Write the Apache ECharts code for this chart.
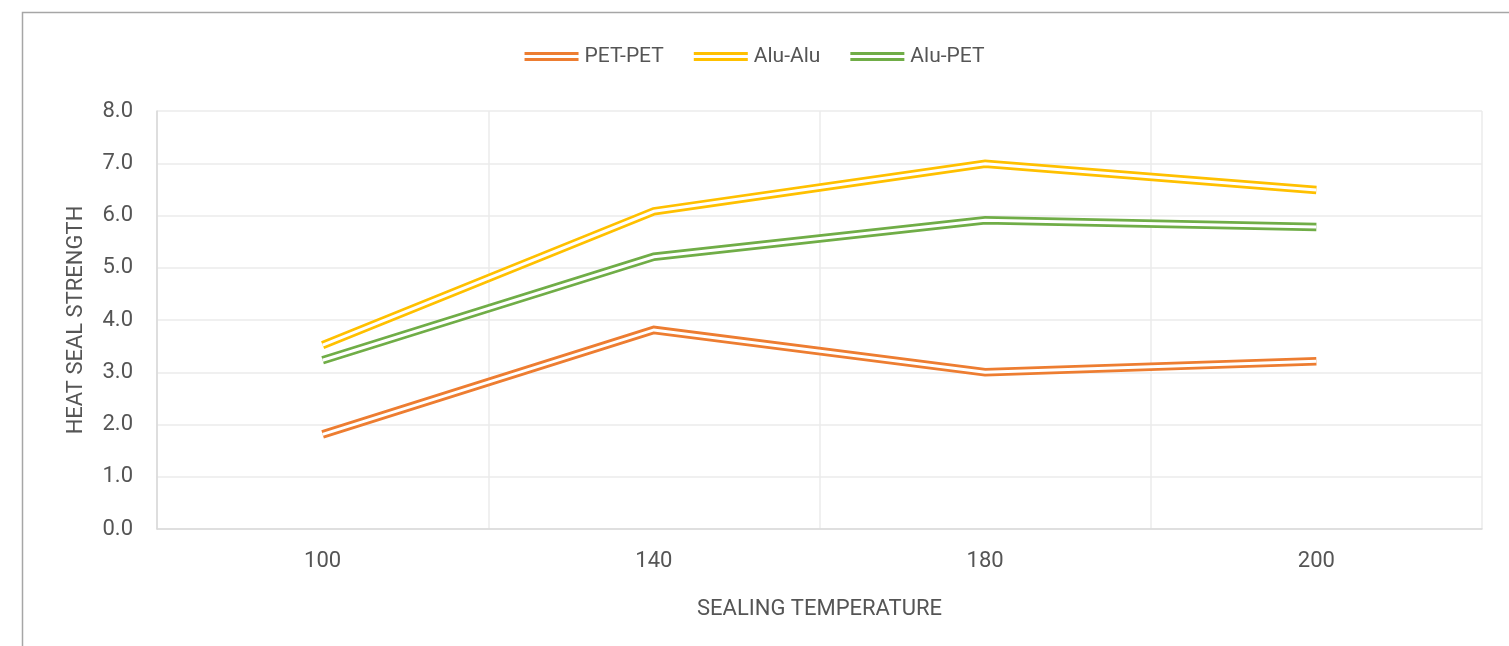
<!DOCTYPE html>
<html>
<head>
<meta charset="utf-8">
<script src="https://cdn.jsdelivr.net/npm/echarts@6/dist/echarts.min.js"></script>
<style>
html,body{margin:0;padding:0;background:#fff;}
#chart{width:1509px;height:646px;}
</style>
</head>
<body>
<div id="chart"></div>
<script>
const categories = ['100', '140', '180', '200'];
const petPet = [1.81, 3.81, 3.00, 3.21];
const aluAlu = [3.52, 6.08, 6.99, 6.49];
const aluPet = [3.23, 5.21, 5.91, 5.78];
const seriesNames = ['PET-PET', 'Alu-Alu', 'Alu-PET'];
const yTicks = {min: 0, max: 8, interval: 1};

const colors = ['#ED7D31', '#FFC000', '#70AD47'];
const textColor = '#555555';
const font = "Roboto, 'Liberation Sans', sans-serif";
const iconPath = 'path://M0,0H54V3H0Z M0,6H54V9H0Z';

const dataSets = [petPet, aluAlu, aluPet];
const series = [];
dataSets.forEach(function (d, i) {
  series.push({
    name: seriesNames[i],
    type: 'line',
    data: d,
    symbol: 'none',
    silent: true,
    z: 2 + i * 2,
    lineStyle: {color: colors[i], width: 8.5, join: 'miter', cap: 'butt'},
    itemStyle: {color: colors[i]}
  });
  series.push({
    name: seriesNames[i] + ' inner',
    type: 'line',
    data: d,
    symbol: 'none',
    silent: true,
    z: 3 + i * 2,
    lineStyle: {color: '#FFFFFF', width: 3, join: 'miter', cap: 'butt'}
  });
});

const chart = echarts.init(document.getElementById('chart'), null, {renderer: 'canvas'});
chart.setOption({
  animation: false,
  backgroundColor: '#FFFFFF',
  textStyle: {fontFamily: font, color: textColor},
  graphic: [{
    type: 'rect',
    shape: {x: 22.5, y: 12.5, width: 1600, height: 700},
    style: {fill: 'none', stroke: '#A6A6A6', lineWidth: 1.5},
    silent: true, z: 0
  }],
  legend: {
    data: seriesNames.map(function (n) { return {name: n, icon: iconPath}; }),
    top: 41,
    left: 'center',
    itemWidth: 54,
    itemHeight: 9,
    itemGap: 30,
    textStyle: {fontFamily: font, fontSize: 21, color: textColor, padding: [0, 0, 0, 1]}
  },
  grid: {left: 157, right: 27, top: 111, bottom: 117, containLabel: false},
  xAxis: {
    type: 'category',
    data: categories,
    boundaryGap: true,
    name: 'SEALING TEMPERATURE',
    nameLocation: 'middle',
    nameGap: 69,
    nameTextStyle: {fontFamily: font, fontSize: 22, color: textColor},
    axisLine: {show: true, lineStyle: {color: '#D9D9D9', width: 1.5}},
    axisTick: {show: false},
    axisLabel: {fontFamily: font, fontSize: 22, color: textColor, margin: 21},
    splitLine: {show: true, lineStyle: {color: '#EBEBEB', width: 1.5}}
  },
  yAxis: {
    type: 'value',
    min: yTicks.min,
    max: yTicks.max,
    interval: yTicks.interval,
    name: 'HEAT SEAL STRENGTH',
    nameLocation: 'middle',
    nameGap: 70,
    nameTextStyle: {fontFamily: font, fontSize: 22, color: textColor},
    axisLine: {show: true, lineStyle: {color: '#D9D9D9', width: 1.5}},
    axisTick: {show: false},
    axisLabel: {fontFamily: font, fontSize: 22, color: textColor, margin: 24,
      formatter: function (v) { return v.toFixed(1); }},
    splitLine: {show: true, lineStyle: {color: '#EBEBEB', width: 1.5}}
  },
  series: series
});
</script>
</body>
</html>
